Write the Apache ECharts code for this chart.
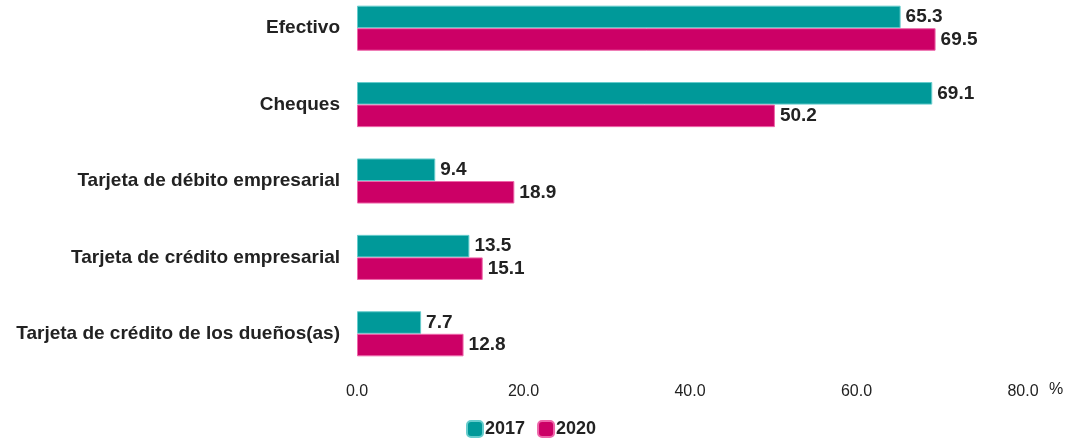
<!DOCTYPE html>
<html>
<head>
<meta charset="utf-8">
<script src="https://cdn.jsdelivr.net/npm/echarts@6/dist/echarts.min.js"></script>
<style>
  html, body { margin: 0; padding: 0; background: #fff; }
  #chart { width: 1069px; height: 439px; }
</style>
</head>
<body>
<div id="chart"></div>
<script>
// Data
const categories = [
    'Efectivo',
    'Cheques',
    'Tarjeta de débito empresarial',
    'Tarjeta de crédito empresarial',
    'Tarjeta de crédito de los dueños(as)'
];
const values2017 = [65.3, 69.1, 9.4, 13.5, 7.7];
const values2020 = [69.5, 50.2, 18.9, 15.1, 12.8];
const seriesNames = ['2017', '2020'];

const labelStyle = {
    show: true,
    position: 'right',
    distance: 5,
    fontFamily: 'Liberation Sans',
    fontWeight: 'bold',
    fontSize: 19,
    color: '#222',
    formatter: function (p) { return p.value.toFixed(1); }
};

const chart = echarts.init(document.getElementById('chart'));
chart.setOption({
    animation: false,
    color: ['#009999', '#cc0066'],
    legend: {
        data: seriesNames,
        bottom: 1,
        left: 466,
        padding: 0,
        itemWidth: 16,
        itemHeight: 16,
        itemGap: 12,
        icon: 'roundRect',
        textStyle: {
            fontFamily: 'Liberation Sans',
            fontWeight: 'bold',
            fontSize: 18,
            color: '#222',
            padding: [0, 0, 0, -3]
        }
    },
    grid: { left: 357, right: 46, top: -10, height: 382, outerBoundsMode: 'none' },
    xAxis: {
        type: 'value',
        min: 0,
        max: 80,
        interval: 20,
        name: '%',
        nameLocation: 'end',
        nameGap: 26,
        nameTextStyle: {
            fontFamily: 'Liberation Sans',
            fontSize: 16,
            color: '#222',
            verticalAlign: 'top',
            padding: [10, 0, 0, 0]
        },
        axisLine: { show: false },
        axisTick: { show: false },
        splitLine: { show: false },
        axisLabel: {
            margin: 12,
            fontFamily: 'Liberation Sans',
            fontSize: 16,
            color: '#222',
            formatter: function (v) { return v.toFixed(1); }
        }
    },
    yAxis: {
        type: 'category',
        data: categories,
        inverse: true,
        axisLine: { show: false },
        axisTick: { show: false },
        axisLabel: {
            margin: 17,
            fontFamily: 'Liberation Sans',
            fontWeight: 'bold',
            fontSize: 19,
            color: '#222'
        }
    },
    series: [
        {
            name: seriesNames[0],
            type: 'bar',
            data: values2017,
            barGap: '0%',
            barCategoryGap: '41%',
            itemStyle: { borderColor: '#66cccc', borderWidth: 1 },
            label: labelStyle
        },
        {
            name: seriesNames[1],
            type: 'bar',
            data: values2020,
            itemStyle: { borderColor: '#ee66aa', borderWidth: 1 },
            label: labelStyle
        }
    ]
});

window.addEventListener('resize', function () {
    chart.resize();
});
</script>
</body>
</html>
